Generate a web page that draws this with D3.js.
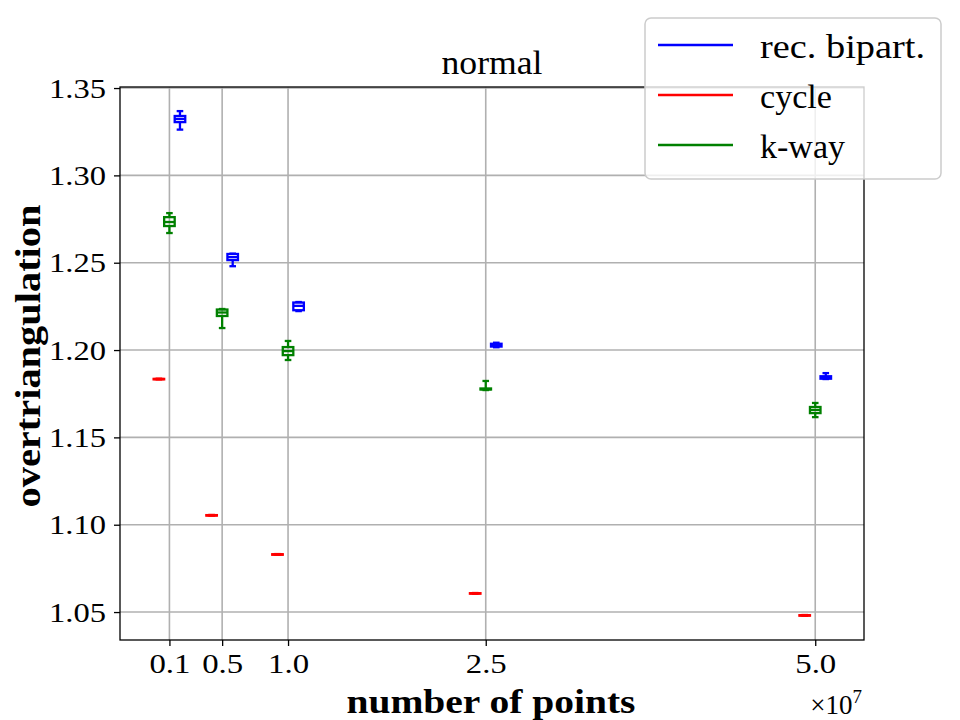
<!DOCTYPE html>
<meta charset="utf-8">
<style>
  html, body { margin: 0; background: #fff; }
  text { font-family: "Liberation Serif", "DejaVu Serif", serif; fill: #000; }
  .grid line { stroke: #b0b0b0; stroke-width: 1.6px; }
</style>
<svg id="chart" width="960" height="720"></svg>
<script src="https://cdn.jsdelivr.net/npm/d3@7"></script>
<script>

  // x positions (units of 1e7 points) and tick labels
  let xTicks = [0.1, 0.5, 1.0, 2.5, 5.0]
  let xTickLabels = ["0.1", "0.5", "1.0", "2.5", "5.0"]
  let yTicks = [1.05, 1.10, 1.15, 1.20, 1.25, 1.30, 1.35]

  let seriesNames = ["rec. bipart.", "cycle", "k-way"]
  let seriesColors = ["#0000ff", "#ff0000", "#008000"]
  let seriesOffsets = [0.08, -0.08, 0]

  // rec. bipart.
  let bipLo  = [1.3262, 1.2480, 1.2223, 1.2016, 1.1834]
  let bipQ1  = [1.3305, 1.2515, 1.2228, 1.2020, 1.1836]
  let bipMed = [1.3323, 1.2532, 1.2253, 1.2029, 1.1840]
  let bipQ3  = [1.3340, 1.2550, 1.2272, 1.2036, 1.1850]
  let bipHi  = [1.3368, 1.2552, 1.2275, 1.2042, 1.1868]

  // cycle
  let cycLo  = [1.1832, 1.1052, 1.0828, 1.0605, 1.0479]
  let cycQ1  = [1.1833, 1.1053, 1.0829, 1.0606, 1.0480]
  let cycMed = [1.1834, 1.1054, 1.0830, 1.0607, 1.0481]
  let cycQ3  = [1.1835, 1.1055, 1.0831, 1.0608, 1.0482]
  let cycHi  = [1.1836, 1.1056, 1.0832, 1.0609, 1.0483]

  // k-way
  let kwLo  = [1.2670, 1.2126, 1.1943, 1.1771, 1.1616]
  let kwQ1  = [1.2710, 1.2195, 1.1971, 1.1774, 1.1639]
  let kwMed = [1.2733, 1.2215, 1.1994, 1.1776, 1.1657]
  let kwQ3  = [1.2761, 1.2232, 1.2017, 1.1780, 1.1674]
  let kwHi  = [1.2784, 1.2235, 1.2052, 1.1823, 1.1697]

  let stats = [
    [bipLo, bipQ1, bipMed, bipQ3, bipHi],
    [cycLo, cycQ1, cycMed, cycQ3, cycHi],
    [kwLo, kwQ1, kwMed, kwQ3, kwHi]
  ]

  let margin = { left: 120, right: 96, top: 87, bottom: 80 }
  let W = 960, H = 720

  let x = d3.scaleLinear().domain([-0.275, 5.37]).range([margin.left, W - margin.right])
  let y = d3.scaleLinear().domain([1.0340, 1.3506]).range([H - margin.bottom, margin.top])

  let svg = d3.select("#chart")

  // grid
  let grid = svg.append("g").attr("class", "grid")
  grid.selectAll(".gx").data(xTicks).join("line")
    .attr("x1", d => x(d)).attr("x2", d => x(d))
    .attr("y1", y.range()[0]).attr("y2", y.range()[1])
  grid.selectAll(".gy").data(yTicks).join("line")
    .attr("x1", x.range()[0]).attr("x2", x.range()[1])
    .attr("y1", d => y(d)).attr("y2", d => y(d))

  // boxes
  let boxW = 0.08, capW = 0.05
  stats.forEach((s, i) => {
    let col = seriesColors[i]
    let g = svg.append("g").attr("stroke", col).attr("stroke-width", 2.3).attr("fill", "none")
    xTicks.forEach((xv, j) => {
      let cx = xv + seriesOffsets[i]
      let lo = s[0][j], q1 = s[1][j], med = s[2][j], q3 = s[3][j], hi = s[4][j]
      // whiskers
      g.append("line").attr("x1", x(cx)).attr("x2", x(cx)).attr("y1", y(lo)).attr("y2", y(q1))
      g.append("line").attr("x1", x(cx)).attr("x2", x(cx)).attr("y1", y(q3)).attr("y2", y(hi))
      // caps
      g.append("line").attr("x1", x(cx - capW / 2)).attr("x2", x(cx + capW / 2)).attr("y1", y(lo)).attr("y2", y(lo))
      g.append("line").attr("x1", x(cx - capW / 2)).attr("x2", x(cx + capW / 2)).attr("y1", y(hi)).attr("y2", y(hi))
      // box
      g.append("rect")
        .attr("x", x(cx - boxW / 2)).attr("width", x(cx + boxW / 2) - x(cx - boxW / 2))
        .attr("y", y(q3)).attr("height", Math.max(0.5, y(q1) - y(q3)))
      // median
      g.append("line").attr("x1", x(cx - boxW / 2)).attr("x2", x(cx + boxW / 2)).attr("y1", y(med)).attr("y2", y(med))
    })
  })

  // axes
  let xAxis = svg.append("g").attr("transform", `translate(0,${H - margin.bottom})`)
    .call(d3.axisBottom(x).tickValues(xTicks).tickFormat((d, i) => xTickLabels[i]).tickSizeOuter(0).tickSize(6).tickPadding(7))
  let yAxis = svg.append("g").attr("transform", `translate(${margin.left},0)`)
    .call(d3.axisLeft(y).tickValues(yTicks).tickFormat(d3.format(".2f")).tickSizeOuter(0).tickSize(6).tickPadding(8))
  ;[xAxis, yAxis].forEach(a => {
    a.attr("font-family", null).attr("font-size", null)
    a.select(".domain").remove()
    a.selectAll("line").attr("stroke", "#000").attr("stroke-width", 1.3)
    a.selectAll("text").attr("font-size", 28)
      .attr("lengthAdjust", "spacingAndGlyphs")
  })
  yAxis.selectAll("text").attr("textLength", 57)
  xAxis.selectAll("text").attr("textLength", 41)

  // frame
  svg.append("rect")
    .attr("x", x.range()[0]).attr("y", y.range()[1])
    .attr("width", x.range()[1] - x.range()[0]).attr("height", y.range()[0] - y.range()[1])
    .attr("fill", "none").attr("stroke", "#000").attr("stroke-width", 1.3)

  // title and labels
  svg.append("text").attr("x", 492).attr("y", 74)
    .attr("text-anchor", "middle").attr("font-size", 33)
    .attr("textLength", 101).attr("lengthAdjust", "spacingAndGlyphs").text("normal")
  svg.append("text").attr("x", 491).attr("y", 713)
    .attr("text-anchor", "middle").attr("font-size", 33).attr("font-weight", "bold")
    .attr("textLength", 289).attr("lengthAdjust", "spacingAndGlyphs").text("number of points")
  svg.append("text").attr("transform", "translate(40,356) rotate(-90)")
    .attr("text-anchor", "middle").attr("font-size", 35).attr("font-weight", "bold")
    .attr("textLength", 303).attr("lengthAdjust", "spacingAndGlyphs").text("overtriangulation")
  let mult = svg.append("text").attr("x", 862).attr("y", 714).attr("text-anchor", "end").attr("font-size", 27)
  mult.append("tspan").text("×10")
  mult.append("tspan").attr("dy", -11).attr("font-size", 19).text("7")

  // legend
  let legLengths = [165, 72, 85]
  let leg = svg.append("g").attr("transform", "translate(645,18)")
  leg.append("rect").attr("width", 296).attr("height", 161).attr("rx", 6)
    .attr("fill", "#fff").attr("fill-opacity", 0.8).attr("stroke", "#cccccc").attr("stroke-width", 1.5)
  seriesNames.forEach((n, i) => {
    let yy = 27 + i * 50
    leg.append("line").attr("x1", 13).attr("x2", 88).attr("y1", yy).attr("y2", yy)
      .attr("stroke", seriesColors[i]).attr("stroke-width", 2.5)
    leg.append("text").attr("x", 115).attr("y", yy + 13).attr("font-size", 34)
      .attr("textLength", legLengths[i]).attr("lengthAdjust", "spacingAndGlyphs").text(n)
  })

</script>
